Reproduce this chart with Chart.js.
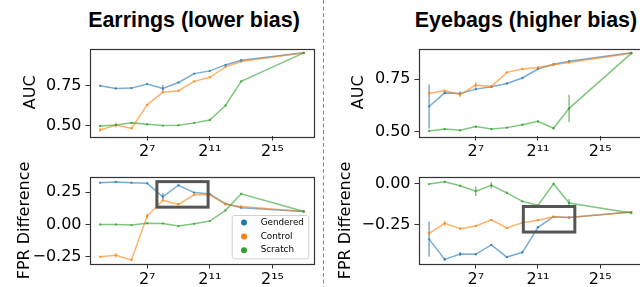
<!DOCTYPE html>
<html><head><meta charset="utf-8">
<script src="https://cdn.jsdelivr.net/npm/chart.js@4"></script>
<style>
html,body{margin:0;padding:0;background:#fff;overflow:hidden;width:640px;height:287px;position:relative;}
canvas{position:absolute;}
svg{position:absolute;left:0;top:0;}
</style></head>
<body>
<svg width="640" height="287">
  <line x1="323.5" y1="0" x2="323.5" y2="287" stroke="#8a8a8a" stroke-width="1" stroke-dasharray="4,2.5"/>
  <text x="194" y="26.7" text-anchor="middle" font-family="Liberation Sans, Arial, sans-serif" font-weight="bold" font-size="21.4">Earrings (lower bias)</text>
  <text x="526" y="26.7" text-anchor="middle" font-family="Liberation Sans, Arial, sans-serif" font-weight="bold" font-size="21.4">Eyebags (higher bias)</text>
</svg>
<canvas id="c1"></canvas><canvas id="c2"></canvas><canvas id="c3"></canvas><canvas id="c4"></canvas>
<script>
// ---------------- DATA ----------------
const sizes = [16, 32, 64, 128, 256, 512, 1024, 2048, 4096, 8192, 131072];
const seriesNames = ['Gendered', 'Control', 'Scratch'];
const xTickExponents = [7, 11, 15];

// Earrings - AUC
const earAucGendered = [0.750, 0.733, 0.735, 0.760, 0.733, 0.770, 0.825, 0.842, 0.879, 0.908, 0.954];
const earAucControl  = [0.475, 0.506, 0.485, 0.631, 0.710, 0.719, 0.777, 0.802, 0.867, 0.900, 0.954];
const earAucScratch  = [0.500, 0.506, 0.519, 0.510, 0.502, 0.504, 0.519, 0.537, 0.627, 0.777, 0.954];
const earAucGenderedErr = [0.004, 0.004, 0.004, 0.004, 0.021, 0.004, 0.004, 0.004, 0.004, 0.004, 0.003];
const earAucControlErr  = [0.010, 0.016, 0.004, 0.006, 0.006, 0.004, 0.004, 0.004, 0.004, 0.004, 0.003];
const earAucScratchErr  = [0.006, 0.004, 0.004, 0.005, 0.004, 0.004, 0.004, 0.004, 0.004, 0.004, 0.003];

// Earrings - FPR Difference
const earFprGendered = [0.324, 0.329, 0.324, 0.319, 0.215, 0.304, 0.247, 0.236, 0.160, 0.130, 0.100];
const earFprControl  = [-0.250, -0.240, -0.275, 0.065, 0.187, 0.156, 0.230, 0.230, 0.156, 0.140, 0.100];
const earFprScratch  = [0.000, 0.000, -0.005, 0.010, 0.008, -0.013, 0.005, 0.026, 0.109, 0.238, 0.100];
const earFprGenderedErr = [0.004, 0.004, 0.004, 0.004, 0.031, 0.006, 0.004, 0.004, 0.004, 0.004, 0.003];
const earFprControlErr  = [0.006, 0.019, 0.006, 0.020, 0.008, 0.004, 0.004, 0.004, 0.004, 0.004, 0.003];
const earFprScratchErr  = [0.006, 0.004, 0.004, 0.004, 0.004, 0.004, 0.004, 0.004, 0.004, 0.004, 0.003];

// Eyebags - AUC
const eyeAucGendered = [0.619, 0.684, 0.681, 0.702, 0.713, 0.729, 0.755, 0.798, 0.821, 0.835, 0.876];
const eyeAucControl  = [0.682, 0.694, 0.676, 0.721, 0.715, 0.782, 0.798, 0.805, 0.818, 0.829, 0.873];
const eyeAucScratch  = [0.502, 0.511, 0.505, 0.523, 0.511, 0.518, 0.532, 0.548, 0.515, 0.610, 0.873];
const eyeAucGenderedErr = [0.105, 0.005, 0.010, 0.005, 0.005, 0.004, 0.004, 0.004, 0.004, 0.004, 0.003];
const eyeAucControlErr  = [0.005, 0.005, 0.012, 0.015, 0.005, 0.004, 0.004, 0.004, 0.004, 0.004, 0.003];
const eyeAucScratchErr  = [0.004, 0.004, 0.004, 0.005, 0.004, 0.004, 0.004, 0.004, 0.004, 0.065, 0.003];

// Eyebags - FPR Difference
const eyeFprGendered = [-0.336, -0.459, -0.426, -0.428, -0.371, -0.445, -0.416, -0.264, -0.200, -0.205, -0.172];
const eyeFprControl  = [-0.301, -0.240, -0.273, -0.256, -0.219, -0.268, -0.236, -0.221, -0.200, -0.205, -0.172];
const eyeFprScratch  = [-0.002, 0.012, -0.012, -0.045, -0.010, -0.055, -0.107, -0.131, 0.000, -0.117, -0.178];
const eyeFprGenderedErr = [0.107, 0.010, 0.012, 0.006, 0.006, 0.005, 0.005, 0.006, 0.004, 0.004, 0.003];
const eyeFprControlErr  = [0.010, 0.015, 0.006, 0.005, 0.005, 0.005, 0.005, 0.005, 0.004, 0.004, 0.003];
const eyeFprScratchErr  = [0.004, 0.004, 0.005, 0.029, 0.020, 0.004, 0.004, 0.004, 0.004, 0.025, 0.003];

// Highlight boxes (data units: sample size range, value range)
const earBoxX = [196.7, 1897];  const earBoxY = [0.134, 0.332];
const eyeBoxX = [1067, 10584];  const eyeBoxY = [-0.293, -0.138];

// Tick values
const aucTicks = [0.50, 0.75];
const earFprTicks = [-0.25, 0.00, 0.25];
const eyeFprTicks = [-0.25, 0.00];

// ---------------- STYLE / RENDER ----------------
const seriesRGB = ['31,119,180', '255,127,14', '44,160,44'];
const TICK_FONT = {family: "'DejaVu Sans', sans-serif", size: 16};
Chart.defaults.color = '#000';

const SUP = {'0':'\u2070','1':'\u00B9','2':'\u00B2','3':'\u00B3','4':'\u2074','5':'\u2075','6':'\u2076','7':'\u2077','8':'\u2078','9':'\u2079'};
function powLabel(v) {
  const e = Math.round(Math.log2(v));
  return '2' + String(e).split('').map(c => SUP[c]).join('');
}
function decLabel(v) {
  const s = Math.abs(v).toFixed(2);
  return (v < -1e-9 ? '\u2212' : '') + s;
}

function makeChart(id, L, values, errors, yTicks, c) {
  const cv = document.getElementById(id);
  cv.width = L.w; cv.height = L.h;
  cv.style.left = L.left + 'px'; cv.style.top = L.top + 'px';
  cv.style.width = L.w + 'px'; cv.style.height = L.h + 'px';

  const datasets = values.map((vals, k) => ({
    label: seriesNames[k],
    data: vals.map((v, i) => ({x: sizes[i], y: v})),
    errors: errors[k],
    rgb: seriesRGB[k],
    borderColor: 'rgba(' + seriesRGB[k] + ',0.6)',
    backgroundColor: 'rgba(' + seriesRGB[k] + ',0.6)',
    borderWidth: 1.5,
    pointRadius: 1.2,
    pointBorderWidth: 0,
    tension: 0,
    order: 3 - k
  }));

  const extras = {
    id: 'extras_' + id,
    afterDatasetDraw(chart, args) {
      const ds = chart.data.datasets[args.index];
      const ys = chart.scales.y, ctx = chart.ctx;
      ctx.save();
      ctx.strokeStyle = 'rgba(' + ds.rgb + ',0.6)';
      ctx.lineWidth = 1.5;
      args.meta.data.forEach((pt, i) => {
        const v = ds.data[i].y, e = ds.errors[i];
        ctx.beginPath();
        ctx.moveTo(pt.x, ys.getPixelForValue(v - e));
        ctx.lineTo(pt.x, ys.getPixelForValue(v + e));
        ctx.stroke();
      });
      ctx.restore();
    },
    afterDraw(chart) {
      const ctx = chart.ctx, a = chart.chartArea;
      const xs = chart.scales.x, ys = chart.scales.y;
      ctx.save();
      if (c.boxX) {
        const x0 = xs.getPixelForValue(c.boxX[0]), x1 = xs.getPixelForValue(c.boxX[1]);
        const y0 = ys.getPixelForValue(c.boxY[1]), y1 = ys.getPixelForValue(c.boxY[0]);
        ctx.strokeStyle = '#555';
        ctx.lineWidth = 3;
        ctx.strokeRect(x0, y0, x1 - x0, y1 - y0);
      }
      if (c.legend) {
        const w = 76.6, h = 43.3;
        const bx = a.right - 5.7 - w, by = a.bottom - 5.7 - h;
        ctx.fillStyle = 'rgba(255,255,255,0.8)';
        ctx.strokeStyle = '#d0d0d0';
        ctx.lineWidth = 1;
        ctx.beginPath();
        ctx.roundRect(bx + 0.5, by + 0.5, w, h, 2);
        ctx.fill(); ctx.stroke();
        ctx.font = "8.8px 'DejaVu Sans', sans-serif";
        ctx.textBaseline = 'middle';
        ctx.textAlign = 'left';
        seriesNames.forEach((n, k) => {
          const ry = by + 7.6 + k * 13.8;
          ctx.fillStyle = 'rgb(' + seriesRGB[k] + ')';
          ctx.beginPath(); ctx.arc(bx + 12.3, ry, 3, 0, Math.PI * 2); ctx.fill();
          ctx.fillStyle = '#000';
          ctx.fillText(n, bx + 29, ry);
        });
      }
      ctx.strokeStyle = '#333';
      ctx.lineWidth = 1.2;
      ctx.strokeRect(Math.round(a.left) + 0.5, Math.round(a.top) + 0.5,
                     Math.round(a.right - a.left), Math.round(a.bottom - a.top));
      ctx.restore();
    }
  };

  return new Chart(cv, {
    type: 'line',
    data: {datasets},
    options: {
      responsive: false, animation: false, devicePixelRatio: 1,
      layout: {padding: {top: L.padTop, right: L.padRight, left: 0, bottom: 0}},
      plugins: {legend: {display: false}, tooltip: {enabled: false}},
      scales: {
        x: {
          type: 'logarithmic', bounds: 'data',
          min: Math.pow(2, 3.35), max: Math.pow(2, 17.65),
          afterBuildTicks: s => { s.ticks = xTickExponents.map(e => ({value: Math.pow(2, e)})); },
          afterFit: s => { s.height = L.xh; },
          grid: {drawOnChartArea: false, tickLength: 4.5, color: '#333', tickWidth: 1},
          border: {display: false},
          ticks: {font: TICK_FONT, color: '#000', padding: 2, autoSkip: false, maxRotation: 0, callback: v => powLabel(v)}
        },
        y: {
          type: 'linear', bounds: 'data', min: c.yMin, max: c.yMax,
          afterBuildTicks: s => { s.ticks = yTicks.map(v => ({value: v})); },
          afterFit: s => { s.width = L.yw; },
          grid: {drawOnChartArea: false, tickLength: 4.5, color: '#333', tickWidth: 1},
          border: {display: false},
          ticks: {font: TICK_FONT, color: '#000', padding: 4, callback: v => decLabel(v)},
          title: {display: true, text: c.title, font: TICK_FONT, color: '#000', padding: {top: c.titlePad, bottom: 0}}
        }
      }
    },
    plugins: [extras]
  });
}

makeChart('c1', {left: 0, top: 30, w: 320, h: 140, padTop: 18.5, padRight: 6, yw: 90, xh: 34},
  [earAucGendered, earAucControl, earAucScratch],
  [earAucGenderedErr, earAucControlErr, earAucScratchErr], aucTicks,
  {yMin: 0.4375, yMax: 0.981, title: 'AUC', titlePad: 21});

makeChart('c2', {left: 0, top: 160, w: 320, h: 127, padTop: 17, padRight: 6, yw: 90, xh: 23},
  [earFprGendered, earFprControl, earFprScratch],
  [earFprGenderedErr, earFprControlErr, earFprScratchErr], earFprTicks,
  {yMin: -0.307, yMax: 0.368, title: 'FPR Difference', titlePad: 15.7, boxX: earBoxX, boxY: earBoxY, legend: true});

makeChart('c3', {left: 320, top: 30, w: 330, h: 140, padTop: 18.5, padRight: 8.6, yw: 99, xh: 34},
  [eyeAucGendered, eyeAucControl, eyeAucScratch],
  [eyeAucGenderedErr, eyeAucControlErr, eyeAucScratchErr], aucTicks,
  {yMin: 0.478, yMax: 0.896, title: 'AUC', titlePad: 29.4});

makeChart('c4', {left: 320, top: 160, w: 330, h: 127, padTop: 17, padRight: 8.6, yw: 99, xh: 23},
  [eyeFprGendered, eyeFprControl, eyeFprScratch],
  [eyeFprGenderedErr, eyeFprControlErr, eyeFprScratchErr], eyeFprTicks,
  {yMin: -0.487, yMax: 0.041, title: 'FPR Difference', titlePad: 16.4, boxX: eyeBoxX, boxY: eyeBoxY});
</script>
</body></html>
